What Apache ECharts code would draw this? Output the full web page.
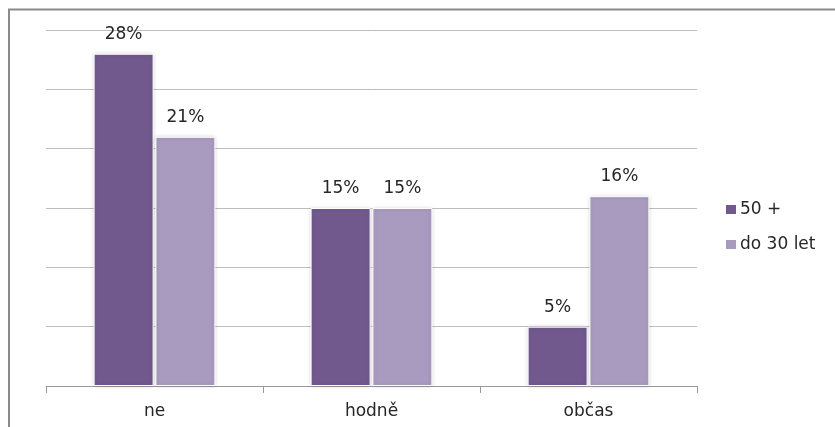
<!DOCTYPE html>
<html>
<head>
<meta charset="utf-8">
<script src="https://cdn.jsdelivr.net/npm/echarts@6/dist/echarts.min.js"></script>
<style>
  html, body { margin: 0; padding: 0; background: #fff; }
  #chart { width: 835px; height: 427px; }
</style>
</head>
<body>
<div id="chart"></div>
<script>
// Survey answers by age group (percent)
const categories = ['ne', 'hodně', 'občas'];
const seriesNames = ['50 +', 'do 30 let'];
const older = [28, 15, 5];
const younger = [21, 15, 16];

const colors = ['#71598E', '#A99BBF'];
const font = '"DejaVu Sans", sans-serif';

const chart = echarts.init(document.getElementById('chart'), null, { renderer: 'canvas' });

function barSeries(name, data, color) {
  return {
    name: name,
    type: 'bar',
    data: data,
    barWidth: 60,
    barGap: '3%',
    itemStyle: {
      color: color,
      borderColor: '#ffffff',
      borderWidth: 1,
      shadowColor: 'rgba(0,0,0,0.15)',
      shadowBlur: 4
    },
    label: {
      show: true,
      position: 'top',
      distance: 11,
      formatter: '{c}%',
      color: '#262626',
      fontFamily: font,
      fontSize: 17
    },
    emphasis: { disabled: true }
  };
}

chart.setOption({
  animation: false,
  color: colors,
  graphic: [
    {
      type: 'polyline',
      shape: { points: [[9, 427], [9, 9.5], [835, 9.5]] },
      style: { stroke: '#8a8a8a', lineWidth: 2, fill: null },
      silent: true
    }
  ],
  grid: { left: 46, right: 138, top: 30, bottom: 41 },
  legend: {
    orient: 'vertical',
    left: 719,
    top: 196,
    itemWidth: 12,
    itemHeight: 11,
    itemGap: 18,
    icon: 'rect',
    textStyle: { fontFamily: font, fontSize: 17, color: '#262626', padding: [0, 0, 0, -2] },
    data: seriesNames
  },
  xAxis: {
    type: 'category',
    data: categories,
    axisLine: { lineStyle: { color: '#9a9a9a', width: 1 } },
    axisTick: { show: true, length: 7, lineStyle: { color: '#9a9a9a' } },
    axisLabel: { fontFamily: font, fontSize: 17, color: '#262626', margin: 17 }
  },
  yAxis: {
    type: 'value',
    min: 0,
    max: 30,
    interval: 5,
    axisLine: { show: false },
    axisTick: { show: false },
    axisLabel: { show: false },
    splitLine: { lineStyle: { color: '#bdbdbd', width: 1 } }
  },
  series: [
    barSeries(seriesNames[0], older, colors[0]),
    barSeries(seriesNames[1], younger, colors[1])
  ]
});
</script>
</body>
</html>
